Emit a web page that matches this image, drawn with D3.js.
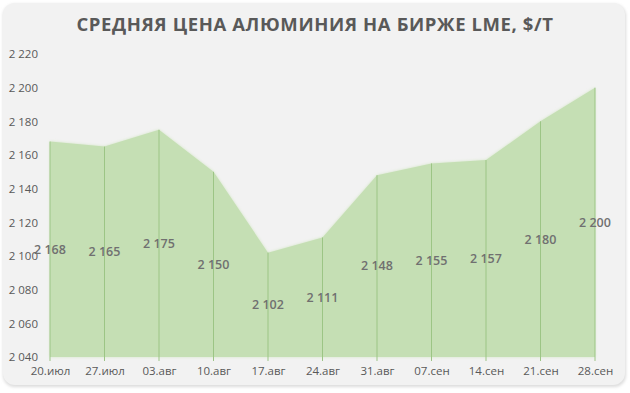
<!DOCTYPE html>
<html lang="ru">
<head>
  <meta charset="utf-8">
  <title>Средняя цена алюминия</title>
  <script src="https://cdn.jsdelivr.net/npm/d3@7"></script>
  <style>
    body { margin: 0; background: #fff; }
    text { font-family: "Open Sans", sans-serif; }
    .axis path, .axis line { display: none; }
    .axis text { font-size: 11.5px; fill: #595959; }
  </style>
</head>
<body>
  <div id="box"></div>
  <script>
    const width = 630
    const height = 393

    // данные
    const dates = ['20.июл', '27.июл', '03.авг', '10.авг', '17.авг', '24.авг',
      '31.авг', '07.сен', '14.сен', '21.сен', '28.сен']
    const prices = [2168, 2165, 2175, 2150, 2102, 2111, 2148, 2155, 2157, 2180, 2200]
    const yTicks = [2040, 2060, 2080, 2100, 2120, 2140, 2160, 2180, 2200, 2220]

    const plot = { left: 50, right: 595, top: 54, bottom: 357 }

    const fmt = v => d3.format(',')(v).replace(',', ' ')

    const xScale = d3.scalePoint()
      .domain(dates)
      .range([plot.left, plot.right])

    const yScale = d3.scaleLinear()
      .domain([2040, 2220])
      .range([plot.bottom, plot.top])

    const svg = d3.select('#box')
      .append('svg')
      .attr('width', width)
      .attr('height', height)

    const defs = svg.append('defs')
    defs.append('filter')
      .attr('id', 'shadow')
      .attr('x', '-5%').attr('y', '-5%').attr('width', '110%').attr('height', '110%')
      .append('feGaussianBlur')
      .attr('stdDeviation', 1.5)
    defs.append('filter')
      .attr('id', 'soft')
      .attr('x', '-5%').attr('y', '-5%').attr('width', '110%').attr('height', '110%')
      .append('feGaussianBlur')
      .attr('stdDeviation', 1.5)

    // фон
    svg.append('rect')
      .attr('x', 3).attr('y', 4)
      .attr('width', 623).attr('height', 383)
      .attr('rx', 12)
      .attr('fill', '#dcdcdc')
      .attr('filter', 'url(#shadow)')
    svg.append('rect')
      .attr('x', 3).attr('y', 3)
      .attr('width', 622).attr('height', 382)
      .attr('rx', 12)
      .attr('fill', '#f2f2f2')

    // заголовок
    svg.append('text')
      .attr('x', width / 2)
      .attr('y', 31)
      .attr('text-anchor', 'middle')
      .attr('font-size', '18.5px')
      .attr('font-weight', 'bold')
      .attr('fill', '#595959')
      .attr('letter-spacing', '0.6px')
      .text('СРЕДНЯЯ ЦЕНА АЛЮМИНИЯ НА БИРЖЕ LME, $/T')

    const area = d3.area()
      .x(d => xScale(d.date))
      .y0(yScale(2040))
      .y1(d => yScale(d.price))

    const points = dates.map((d, i) => ({ date: d, price: prices[i] }))

    svg.append('path')
      .datum(points)
      .attr('d', area)
      .attr('fill', '#d3e6c5')
      .attr('filter', 'url(#soft)')

    svg.append('path')
      .datum(points)
      .attr('d', area)
      .attr('fill', '#c5dfb4')

    // линии от точек
    svg.selectAll('.drop')
      .data(points)
      .enter()
      .append('line')
      .attr('class', 'drop')
      .attr('x1', d => xScale(d.date))
      .attr('x2', d => xScale(d.date))
      .attr('y1', d => yScale(d.price))
      .attr('y2', yScale(2040) + 4)
      .attr('stroke', '#9cc585')
      .attr('stroke-width', 1)

    // оси
    svg.append('g')
      .attr('class', 'axis')
      .attr('transform', `translate(${plot.left - 12},0)`)
      .call(d3.axisLeft(yScale).tickValues(yTicks).tickFormat(fmt).tickSize(0).tickPadding(0))

    svg.append('g')
      .attr('class', 'axis')
      .attr('transform', `translate(0,${plot.bottom + 6})`)
      .call(d3.axisBottom(xScale).tickSize(0).tickPadding(4))

    // подписи значений
    svg.selectAll('.lbl')
      .data(points)
      .enter()
      .append('text')
      .attr('class', 'lbl')
      .attr('x', d => xScale(d.date))
      .attr('y', d => (yScale(d.price) + yScale(2040)) / 2)
      .attr('dy', '0.35em')
      .attr('text-anchor', 'middle')
      .attr('font-size', '12.5px')
      .attr('font-weight', 600)
      .attr('fill', '#707070')
      .text(d => fmt(d.price))
  </script>
</body>
</html>
